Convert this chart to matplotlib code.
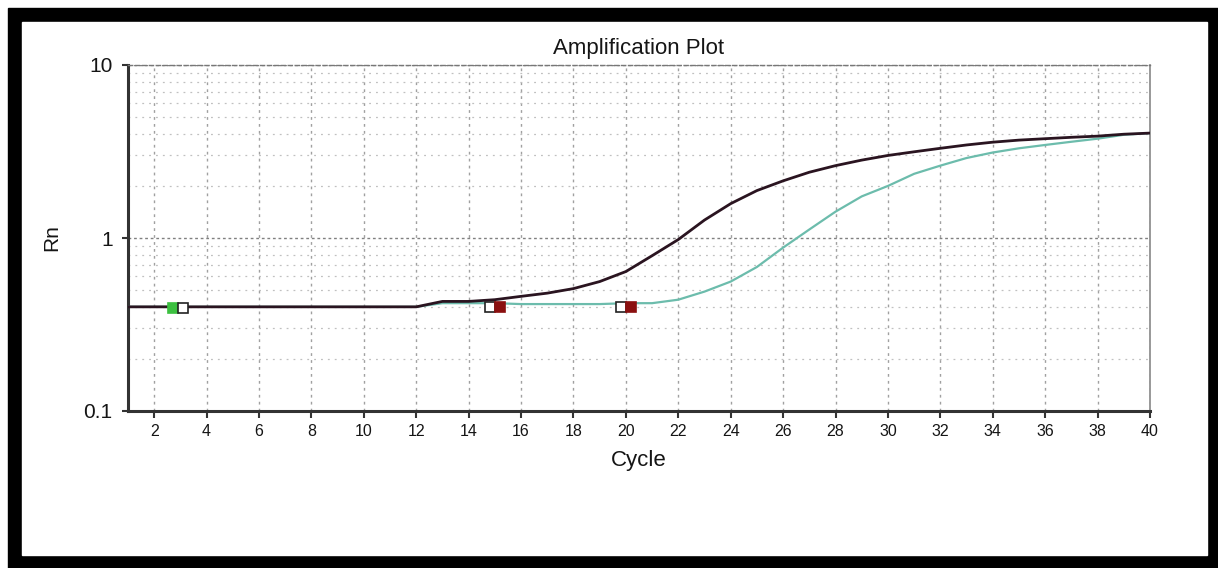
import matplotlib
matplotlib.use("Agg")
import matplotlib.pyplot as plt
import matplotlib.transforms as mtransforms
from matplotlib.patches import Rectangle
from matplotlib.ticker import LogLocator, FixedLocator, NullFormatter, FuncFormatter

# ── Data ──────────────────────────────────────────────────────────────────────
cycles = list(range(1, 41))
rn_dark = [0.40, 0.40, 0.40, 0.40, 0.40, 0.40, 0.40, 0.40, 0.40, 0.40,
           0.40, 0.40, 0.43, 0.43, 0.44, 0.46, 0.48, 0.51, 0.56, 0.64,
           0.79, 0.98, 1.27, 1.58, 1.88, 2.14, 2.40, 2.62, 2.82, 3.00,
           3.15, 3.30, 3.45, 3.58, 3.68, 3.75, 3.82, 3.88, 3.98, 4.04]
rn_teal = [0.40, 0.40, 0.40, 0.40, 0.40, 0.40, 0.40, 0.40, 0.40, 0.40,
           0.40, 0.40, 0.42, 0.42, 0.42, 0.415, 0.415, 0.415, 0.415, 0.42,
           0.42, 0.44, 0.49, 0.56, 0.68, 0.88, 1.12, 1.42, 1.74, 2.00,
           2.35, 2.62, 2.90, 3.12, 3.30, 3.45, 3.60, 3.75, 3.95, 4.04]

# threshold / baseline markers (cycle, Rn, left colour, right colour)
mark_cycle = [2.9, 15, 20]
mark_rn    = [0.395, 0.40, 0.40]
mark_left  = ["#3cc040", "white", "white"]
mark_right = ["white", "#8b1010", "#8b1010"]

x_ticks = list(range(2, 41, 2))

# ── Style ─────────────────────────────────────────────────────────────────────
plt.rcParams["font.family"] = ["Liberation Sans", "DejaVu Sans"]
DARK  = "#2a1420"
TEAL  = "#6cbcac"
GRID  = "#a0a0a0"
TXT   = "#151515"

fig = plt.figure(figsize=(12.18, 5.68), dpi=100, facecolor="white")

# black picture frame (behind the axes)
W, H = 1218, 568
fig.patches.append(Rectangle((8 / W, 0), 1 - 8 / W, 1 - 8 / H,
                             transform=fig.transFigure, color="black", zorder=-2))
fig.patches.append(Rectangle((22 / W, 13 / H), (1207 - 22) / W, (555 - 22) / H,
                             transform=fig.transFigure, color="white", zorder=-1))

ax = fig.add_axes([128 / W, 1 - 411 / H, (1150 - 128) / W, (411 - 65) / H])
ax.set_facecolor("white")
ax.set_yscale("log")
ax.set_xlim(1, 40)
ax.set_ylim(0.1, 10)

# grid
ax.xaxis.set_major_locator(FixedLocator(x_ticks))
ax.yaxis.set_major_locator(FixedLocator([0.1, 1, 10]))
ax.yaxis.set_minor_locator(LogLocator(base=10, subs=range(2, 10)))
ax.yaxis.set_minor_formatter(NullFormatter())
ax.yaxis.set_major_formatter(FuncFormatter(lambda v, p: f"{v:g}"))
ax.grid(True, axis="x", which="major", color=GRID, linestyle=(0, (2, 3)), linewidth=1.0)
ax.grid(True, axis="y", which="major", color="#808080", linestyle=(0, (2, 2)), linewidth=1.0)
ax.grid(True, axis="y", which="minor", color="#c0c0c0", linestyle=(0, (1.5, 4)), linewidth=0.9)
ax.set_axisbelow(True)

for side in ("left", "bottom"):
    ax.spines[side].set_color("#333333")
    ax.spines[side].set_linewidth(2.2)
ax.spines["top"].set_color("#777777")
ax.spines["top"].set_linestyle((0, (3, 2)))
ax.spines["top"].set_linewidth(1.0)
ax.spines["right"].set_color("#888888")
ax.spines["right"].set_linewidth(1.2)

ax.tick_params(axis="x", which="major", direction="out", length=5, width=1.5,
               color="#333333", labelsize=11.5, labelcolor=TXT, pad=4)
ax.tick_params(axis="y", which="major", direction="out", length=4, width=1.5,
               color="#333333", labelsize=15, labelcolor=TXT, pad=7)
ax.tick_params(axis="y", which="minor", length=0)

# curves
ax.plot(cycles, rn_teal, color=TEAL, linewidth=1.6, zorder=3)
ax.plot(cycles, rn_dark, color=DARK, linewidth=2.0, zorder=4)

# two-tone square markers
off = 3.6 / 72
for cx, cy, lc, rc in zip(mark_cycle, mark_rn, mark_left, mark_right):
    tl = ax.transData + mtransforms.ScaledTranslation(-off, 0, fig.dpi_scale_trans)
    tr = ax.transData + mtransforms.ScaledTranslation(off, 0, fig.dpi_scale_trans)
    ax.plot([cx], [cy], marker="s", markersize=7.2, color=lc,
            markeredgecolor="#222222" if lc == "white" else lc,
            markeredgewidth=1.2, transform=tl, zorder=5, clip_on=False)
    ax.plot([cx], [cy], marker="s", markersize=7.2, color=rc,
            markeredgecolor="#222222" if rc == "white" else rc,
            markeredgewidth=1.2, transform=tr, zorder=5, clip_on=False)

ax.set_title("Amplification Plot", fontsize=16, color=TXT, pad=8)
ax.set_xlabel("Cycle", fontsize=16, color=TXT, labelpad=8)
ax.set_ylabel("Rn", fontsize=15, color=TXT, labelpad=16)

fig.savefig("out.png", dpi=100, facecolor="white")
